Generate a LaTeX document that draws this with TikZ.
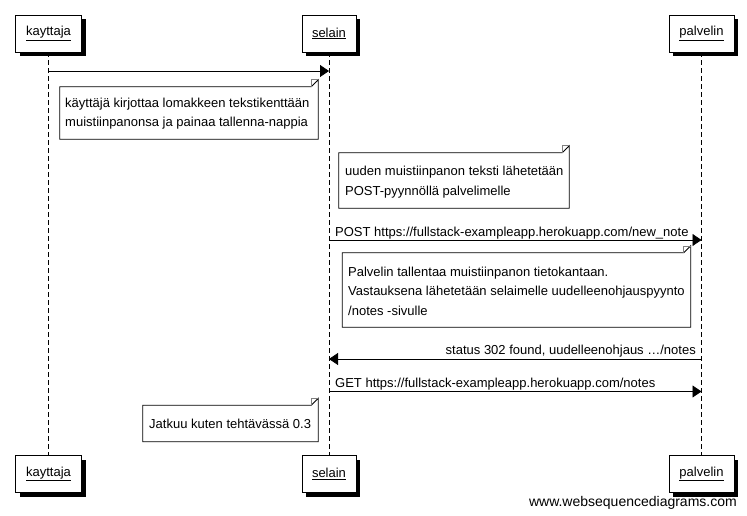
\documentclass[tikz,border=0pt]{standalone}
\usepackage{fontspec}
\setmainfont{Liberation Sans}
\usetikzlibrary{arrows.meta,shadows}
\begin{document}
\begin{tikzpicture}[x=1pt,y=-1pt,
  every node/.style={font=\fontsize{13}{19.5}\selectfont},
  actor/.style={draw=black, line width=0.9pt, fill=white, minimum height=37pt, inner sep=0pt,
    general shadow={fill=black, shadow xshift=4pt, shadow yshift=-4pt}},
  lifeline/.style={draw=black, line width=0.8pt, dash pattern=on 5pt off 3pt},
  msg/.style={draw=black, line width=0.8pt, -{Triangle[length=9pt,width=12pt]}},
  notebox/.style={inner sep=0pt, align=left},
  noteline/.style={draw=black, line width=0.8pt},
  label/.style={inner sep=0pt}
]
\useasboundingbox (0,0) rectangle (747,516);
\fill[white] (0,0) rectangle (747,516);

% actors
\node[actor, minimum width=66pt] (k1) at (48.5,33.5) {\underline{kayttaja}};
\node[actor, minimum width=54pt] (s1) at (329,33.5) {\underline{selain}};
\node[actor, minimum width=65pt] (p1) at (701.5,33.5) {\underline{palvelin}};
\node[actor, minimum width=66pt] (k2) at (48.5,474) {\underline{kayttaja}};
\node[actor, minimum width=54pt] (s2) at (329,474) {\underline{selain}};
\node[actor, minimum width=65pt] (p2) at (701.5,474) {\underline{palvelin}};

% lifelines
\draw[lifeline] (k1.south) -- (k2.north);
\draw[lifeline] (s1.south) -- (s2.north);
\draw[lifeline] (p1.south) -- (p2.north);

% note outline with folded corner
\newcommand{\notedraw}[1]{%
  \draw[noteline] (#1.north west) -- ([xshift=-7pt]#1.north east) -- ([yshift=7pt]#1.north east) -- (#1.south east) -- (#1.south west) -- cycle;
  \draw[noteline, draw=gray, line width=0.6pt] ([xshift=-7pt]#1.north east) -- ([xshift=-7pt,yshift=7pt]#1.north east) -- ([yshift=7pt]#1.north east);
}

% message 1
\draw[msg] (k1.south |- 0,71) -- (s1.south |- 0,71);

% note 1
\node[notebox, minimum width=258pt, minimum height=52pt] (n1) at (189,113) {};
\node[anchor=west, align=left, inner sep=0pt] (t1) at (65,113.5) {käyttäjä kirjottaa lomakkeen tekstikenttään\\muistiinpanonsa ja painaa tallenna-nappia};
\notedraw{n1}

% note 2
\node[notebox, minimum width=230pt, minimum height=55pt] (n2) at (454,180.5) {};
\node[anchor=west, align=left, inner sep=0pt] (t2) at (345,182) {uuden muistiinpanon teksti lähetetään\\POST-pyynnöllä palvelimelle};
\notedraw{n2}

% POST
\draw[msg] (s1.south |- 0,240) -- (p1.south |- 0,240);
\node[label, anchor=base west] (l2) at (335,236) {POST https://fullstack-exampleapp.herokuapp.com/new\_note};

% note 3
\node[notebox, minimum width=348pt, minimum height=74pt] (n3) at (516.5,290) {};
\node[anchor=west, align=left, inner sep=0pt] (t3) at (348,291) {Palvelin tallentaa muistiinpanon tietokantaan.\\Vastauksena lähetetään selaimelle uudelleenohjauspyynto\\/notes -sivulle};
\notedraw{n3}

% status
\draw[msg] (p1.south |- 0,359) -- (s1.south |- 0,359);
\node[label, anchor=base east] (l3) at (696,354) {status 302 found, uudelleenohjaus \dots/notes};

% GET
\draw[msg] (s1.south |- 0,391.5) -- (p1.south |- 0,391.5);
\node[label, anchor=base west] (l4) at (335,387) {GET https://fullstack-exampleapp.herokuapp.com/notes};

% note 4
\node[notebox, minimum width=175pt, minimum height=36pt] (n4) at (230.5,423.5) {};
\node[anchor=west, inner sep=0pt] (t4) at (149,424) {Jatkuu kuten tehtävässä 0.3};
\notedraw{n4}

% watermark
\node[anchor=base east, inner sep=0pt, font=\fontsize{14}{16}\selectfont] (wm) at (737,506) {www.websequencediagrams.com};
\end{tikzpicture}
\end{document}
